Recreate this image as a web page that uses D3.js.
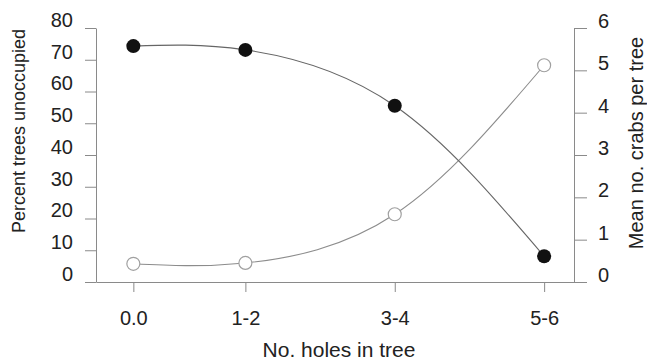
<!DOCTYPE html>
<html>
<head>
<meta charset="utf-8">
<script src="https://cdn.jsdelivr.net/npm/d3@7"></script>
<style>
  body { margin: 0; background: #fff; }
  svg { display: block; }
  text { font-family: "Liberation Sans", Arial, Helvetica, sans-serif; fill: #222; }
</style>
</head>
<body>
<div id="chart"></div>
<script>
// categories are placed on a numeric axis (mid-point of each class)
const categories = ['0.0', '1-2', '3-4', '5-6'];
const catPos = [0, 1.5, 3.5, 5.5];
// percent trees unoccupied (filled, left axis)
const pctUnoccupied = [74.3, 73.1, 55.5, 8.1];
// mean no. crabs per tree (open, right axis)
const meanCrabs = [0.43, 0.45, 1.6, 5.12];
const leftTicks = [0, 10, 20, 30, 40, 50, 60, 70, 80];
const rightTicks = [0, 1, 2, 3, 4, 5, 6];

const width = 647, height = 363;
const svg = d3.select('#chart').append('svg')
    .attr('width', width)
    .attr('height', height);

const x = d3.scaleLinear().domain([-0.5, 5.9]).range([96, 574]);
const yL = d3.scaleLinear().domain([0, 80]).range([282, 28]);
const yR = d3.scaleLinear().domain([0, 6]).range([282, 28]);

const axisColor = '#8a8a8a';

function styleAxis(g, dy) {
    g.selectAll('path.domain').attr('stroke', axisColor).attr('stroke-width', 1);
    g.selectAll('.tick line').attr('stroke', axisColor).attr('stroke-width', 1);
    g.selectAll('.tick text')
        .attr('font-size', 20)
        .attr('fill', '#222')
        .attr('font-family', '"Liberation Sans", Arial, sans-serif');
    if (dy != null) g.selectAll('.tick text').attr('dy', dy);
}

// bottom axis
const gx = svg.append('g')
    .attr('transform', `translate(0,${yL(0)})`)
    .call(d3.axisBottom(x)
        .tickValues(catPos)
        .tickFormat((d, i) => categories[i])
        .tickSize(10)
        .tickSizeOuter(0)
        .tickPadding(19));
styleAxis(gx);

// left axis
const gl = svg.append('g')
    .attr('transform', `translate(${x.range()[0]},0)`)
    .call(d3.axisLeft(yL)
        .tickValues(leftTicks)
        .tickFormat(d3.format('d'))
        .tickSize(11)
        .tickSizeOuter(0)
        .tickPadding(12));
styleAxis(gl, '0.12em');
gl.selectAll('.tick text').attr('y', -4);

// right axis
const gr = svg.append('g')
    .attr('transform', `translate(${x.range()[1]},0)`)
    .call(d3.axisRight(yR)
        .tickValues(rightTicks)
        .tickFormat(d3.format('d'))
        .tickSize(13)
        .tickSizeOuter(0)
        .tickPadding(11));
styleAxis(gr, '0.12em');
gr.selectAll('.tick text').attr('y', -3);

// curves
const lineL = d3.line()
    .x((d, i) => x(catPos[i]))
    .y(d => yL(d))
    .curve(d3.curveNatural);
const lineR = d3.line()
    .x((d, i) => x(catPos[i]))
    .y(d => yR(d))
    .curve(d3.curveNatural);

svg.append('path')
    .datum(meanCrabs)
    .attr('d', lineR)
    .attr('fill', 'none')
    .attr('stroke', '#8c8c8c')
    .attr('stroke-width', 1.1);

svg.append('path')
    .datum(pctUnoccupied)
    .attr('d', lineL)
    .attr('fill', 'none')
    .attr('stroke', '#666')
    .attr('stroke-width', 1.1);

// markers
svg.append('g').selectAll('circle')
    .data(meanCrabs)
    .enter().append('circle')
    .attr('cx', (d, i) => x(catPos[i]))
    .attr('cy', d => yR(d))
    .attr('r', 6.5)
    .attr('fill', '#fff')
    .attr('stroke', '#a0a0a0')
    .attr('stroke-width', 1.2);

svg.append('g').selectAll('circle')
    .data(pctUnoccupied)
    .enter().append('circle')
    .attr('cx', (d, i) => x(catPos[i]))
    .attr('cy', d => yL(d))
    .attr('r', 7)
    .attr('fill', '#111');

// titles
svg.append('text')
    .attr('x', 339)
    .attr('y', 357)
    .attr('text-anchor', 'middle')
    .attr('font-size', 21)
    .text('No. holes in tree');

svg.append('text')
    .attr('transform', 'translate(25,131) rotate(-90)')
    .attr('text-anchor', 'middle')
    .attr('font-size', 18)
    .text('Percent trees unoccupied');

svg.append('text')
    .attr('transform', 'translate(643,143) rotate(-90)')
    .attr('text-anchor', 'middle')
    .attr('font-size', 20)
    .text('Mean no. crabs per tree');
</script>
</body>
</html>
